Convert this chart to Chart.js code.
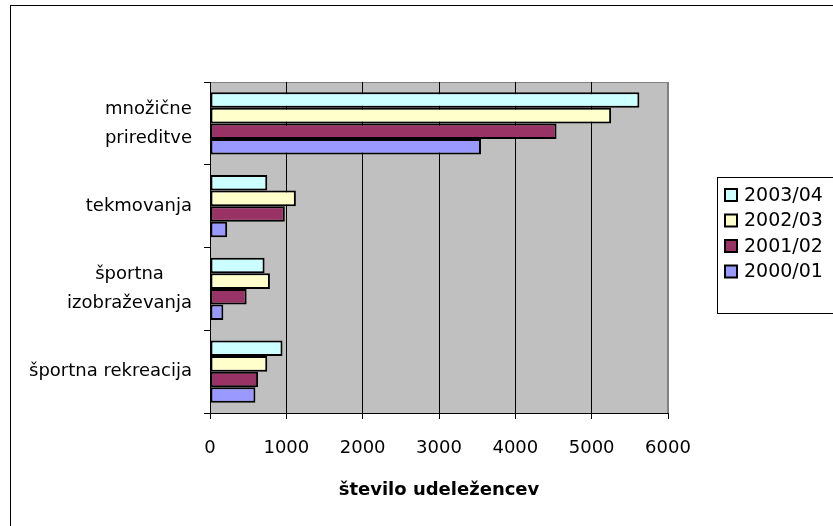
<!DOCTYPE html>
<html>
<head>
<meta charset="utf-8">
<script src="https://cdn.jsdelivr.net/npm/chart.js@4.4.1/dist/chart.umd.min.js"></script>
<style>
  body { margin: 0; background: #fff; }
  #wrap { width: 833px; height: 526px; }
</style>
</head>
<body>
<div id="wrap"><canvas id="mainChart" width="833" height="526"></canvas></div>
<script>
// Chart data
const categories = [["množične", "prireditve"], ["tekmovanja"], ["športna", "izobraževanja"], ["športna rekreacija"]];
const seasons = ["2003/04", "2002/03", "2001/02", "2000/01"];
const values0304 = [5625, 750, 715, 950];
const values0203 = [5255, 1125, 785, 750];
const values0102 = [4540, 980, 480, 630];
const values0001 = [3550, 225, 175, 595];
const xTicks = [0, 1000, 2000, 3000, 4000, 5000, 6000];
const axisTitle = "število udeležencev";

const colors = ["#CCFFFF", "#FFFFCC", "#993366", "#9999FF"];
const font = "DejaVu Sans";

// Gray plot background, gray frame top/right, outer chart frame
const backdrop = {
    id: "backdrop",
    beforeDraw(chart) {
        const {ctx, chartArea: a} = chart;
        ctx.save();
        ctx.fillStyle = "#fff";
        ctx.fillRect(0, 0, chart.width, chart.height);
        ctx.fillStyle = "#C0C0C0";
        ctx.fillRect(a.left, a.top, a.right - a.left, a.bottom - a.top);
        ctx.strokeStyle = "#808080";
        ctx.lineWidth = 1;
        ctx.strokeRect(a.left + 0.5, a.top + 0.5, a.right - a.left - 1, a.bottom - a.top);
        ctx.strokeStyle = "#000";
        ctx.strokeRect(10.5, 5.5, 900, 600);
        ctx.restore();
    },
    afterDraw(chart) {
        const {ctx} = chart;
        const y = chart.scales.y;
        ctx.save();
        // category labels: block right aligned, lines centered
        ctx.font = `18px "${font}"`;
        ctx.fillStyle = "#000";
        ctx.textAlign = "center";
        ctx.textBaseline = "middle";
        const right = 192;
        const lh = 29;
        categories.forEach((lines, i) => {
            const w = Math.max(...lines.map(l => ctx.measureText(l).width));
            const cx = right - w / 2;
            const cy = y.getPixelForTick(i);
            lines.forEach((l, j) => {
                ctx.fillText(l, cx, cy + (j - (lines.length - 1) / 2) * lh);
            });
        });
        // legend
        ctx.strokeStyle = "#000";
        ctx.lineWidth = 1;
        ctx.strokeRect(717.5, 177.5, 200, 136);
        ctx.font = `19px "${font}"`;
        ctx.textAlign = "left";
        chart.data.datasets.forEach((ds, i) => {
            const cy = 195 + i * 25.5;
            ctx.fillStyle = ds.backgroundColor;
            ctx.fillRect(725, cy - 6, 12, 12);
            ctx.lineWidth = 2;
            ctx.strokeRect(725, cy - 6, 12, 12);
            ctx.fillStyle = "#000";
            ctx.fillText(ds.label, 744, cy + 1);
        });
        ctx.restore();
    }
};

const datasets = [values0304, values0203, values0102, values0001].map((data, i) => ({
    label: seasons[i],
    data: data,
    backgroundColor: colors[i],
    borderColor: "#000",
    borderWidth: 2,
    borderSkipped: false,
    categoryPercentage: 0.75,
    barPercentage: 1.0
}));

const config = {
    type: "bar",
    data: { labels: categories, datasets: datasets },
    options: {
        indexAxis: "y",
        responsive: false,
        animation: false,
        devicePixelRatio: 1,
        layout: { padding: { top: 82, right: 165, left: 0, bottom: 0 } },
        plugins: { legend: { display: false }, tooltip: { enabled: false } },
        scales: {
            x: {
                min: 0,
                max: 6000,
                afterBuildTicks: scale => { scale.ticks = xTicks.map(v => ({ value: v })); },
                afterFit: scale => { scale.height = 113; },
                grid: {
                    color: ctx => (ctx.tick && ctx.tick.value === 6000 ? "#808080" : "#000"),
                    lineWidth: 1,
                    tickLength: 6,
                    tickColor: "#000"
                },
                border: { color: "#000", width: 1 },
                ticks: {
                    color: "#000",
                    padding: 19,
                    font: { family: font, size: 18 },
                    callback: v => String(v)
                },
                title: {
                    display: true,
                    text: axisTitle,
                    color: "#000",
                    font: { family: font, size: 18, weight: "bold" },
                    padding: { top: 4, bottom: 25 }
                }
            },
            y: {
                afterFit: scale => { scale.width = 210; },
                grid: { drawOnChartArea: false, tickLength: 6, color: "#000", offset: true },
                border: { color: "#000", width: 1 },
                ticks: { display: false }
            }
        }
    },
    plugins: [backdrop]
};

const myChart = new Chart(document.getElementById("mainChart"), config);
</script>
</body>
</html>
